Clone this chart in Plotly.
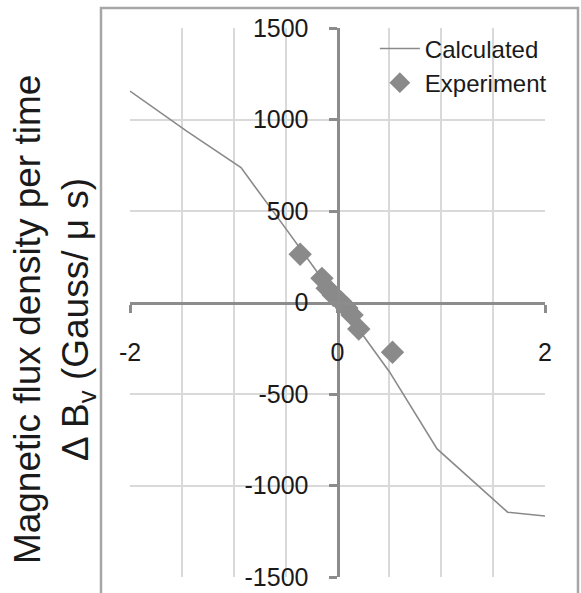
import plotly.graph_objects as go

# Calculated curve
calc_x = [-2.0, -1.45, -0.93, -0.5, 0.5, 0.96, 1.64, 2.0]
calc_y = [1155, 935, 737, 405, -378, -800, -1146, -1167]

# Experiment points
exp_x = [-0.36, -0.15, -0.10, -0.04, 0.03, 0.09, 0.14, 0.205, 0.53]
exp_y = [264, 132, 78, 40, 5, -30, -68, -145, -272]

x_ticks = [-2, 0, 2]
x_grid = [-1.5, -1.0, -0.5, 0.5, 1.0, 1.5]
y_ticks = [-1500, -1000, -500, 0, 500, 1000, 1500]
y_grid = [-1000, -500, 500, 1000]

AX = "#8c8c8c"
GRID = "#d9d9d9"
FONT = "Liberation Sans, Arial, sans-serif"

fig = go.Figure()
fig.add_trace(go.Scatter(x=calc_x, y=calc_y, mode="lines", name="Calculated",
                         line=dict(color="#8a8a8a", width=1.6)))
fig.add_trace(go.Scatter(x=exp_x, y=exp_y, mode="markers", name="Experiment",
                         marker=dict(symbol="diamond", size=18, color="#8a8a8a",
                                     line=dict(width=0))))

fig.update_layout(
    width=581, height=593,
    margin=dict(l=130, r=36, t=28, b=16, autoexpand=False),
    paper_bgcolor="white", plot_bgcolor="white",
    font=dict(family=FONT, color="#1a1a1a"),
    showlegend=True,
    legend=dict(x=0.59, y=1.003, xanchor="left", yanchor="top",
                font=dict(size=24, color="#1a1a1a"), itemwidth=40,
                bgcolor="rgba(0,0,0,0)", tracegroupgap=0),
    xaxis=dict(range=[-2, 2], anchor="free", position=0.5, automargin=False,
               tickvals=x_ticks, ticktext=[str(v) for v in x_ticks],
               ticks="outside", ticklen=8, tickwidth=3, tickcolor=AX,
               showline=True, linecolor=AX, linewidth=3,
               zeroline=False, showgrid=False,
               tickfont=dict(size=25, color="#1a1a1a"),
               ticklabelstandoff=18,
               minor=dict(tickvals=x_grid, showgrid=True, gridcolor=GRID,
                          gridwidth=1.5, ticks="")),
    yaxis=dict(range=[-1500, 1500], anchor="free", position=0.5, automargin=False,
               tickvals=y_ticks, ticktext=[str(v) for v in y_ticks],
               ticks="outside", ticklen=8, tickwidth=3, tickcolor=AX,
               showline=True, linecolor=AX, linewidth=3,
               zeroline=False, showgrid=False,
               tickfont=dict(size=25, color="#1a1a1a"),
               ticklabelstandoff=15,
               minor=dict(tickvals=y_grid, showgrid=True, gridcolor=GRID,
                          gridwidth=1.5, ticks="")),
)

fig.add_annotation(
    text="Magnetic flux density per time<br>Δ B<sub>v</sub> (Gauss/ μ s)",
    xref="paper", yref="paper", x=-0.183, y=0.468,
    xanchor="center", yanchor="middle", textangle=-90, showarrow=False,
    font=dict(size=37, family=FONT, color="#1a1a1a"))

fig.add_shape(type="rect", xref="paper", yref="paper",
              x0=-0.0699, x1=1.0795, y0=-0.06, y1=1.0364,
              line=dict(color="#a6a6a6", width=2.5), fillcolor="rgba(0,0,0,0)",
              layer="below")

fig.write_html("out.html")
